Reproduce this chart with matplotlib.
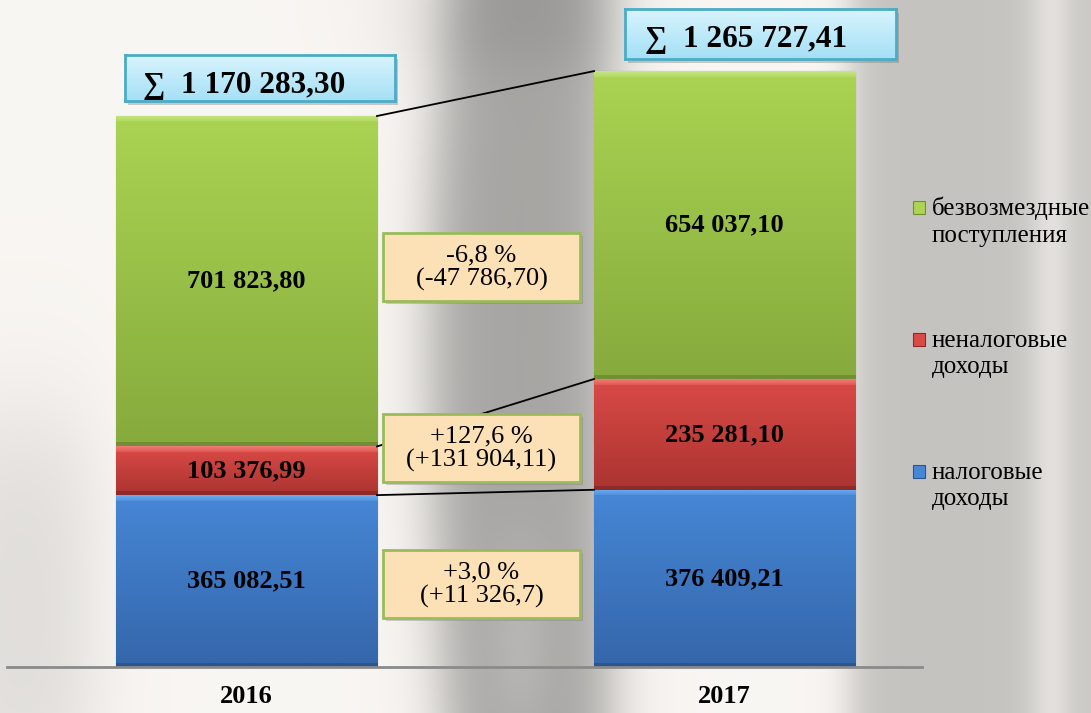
import numpy as np
import matplotlib
matplotlib.use("Agg")
import matplotlib.pyplot as plt
from matplotlib.patches import Rectangle
from matplotlib.colors import to_rgb

# ---------------- data ----------------
years = ["2016", "2017"]
series_names = ["налоговые\nдоходы", "неналоговые\nдоходы", "безвозмездные\nпоступления"]
tax = [365082.51, 376409.21]
nontax = [103376.99, 235281.10]
grants = [701823.80, 654037.10]
value_labels = [["365 082,51", "376 409,21"],
                ["103 376,99", "235 281,10"],
                ["701 823,80", "654 037,10"]]
total_labels = ["∑  1 170 283,30", "∑  1 265 727,41"]
change_labels = ["+3,0 %\n(+11 326,7)", "+127,6 %\n(+131 904,11)", "-6,8 %\n(-47 786,70)"]

# ---------------- style ----------------
W, H = 1091, 713
SERIF = ["Liberation Serif", "DejaVu Serif"]
plt.rcParams["font.family"] = SERIF

seg_colors = [  # (highlight, top, bottom, bottom edge)
    ("#6aaaf0", "#4687d6", "#3566aa", "#2b5590"),
    ("#f07a76", "#da4a46", "#ab3431", "#8e2a28"),
    ("#c6e584", "#aad452", "#86aa3d", "#718f33"),
]

fig = plt.figure(figsize=(W / 100, H / 100), dpi=100)


def fx(x):
    return x / W


def fy(y):
    return 1 - y / H


# ---------------- background (photo-like soft gray) ----------------
bg = fig.add_axes([0, 0, 1, 1], zorder=-5)
yy, xx = np.mgrid[0:H, 0:W].astype(float)


def sband(x, a, b, s):
    return 1 / (1 + np.exp(-(x - a) / s)) / (1 + np.exp((x - b) / s))


v = np.full((H, W), 0.975)
shift = 15 * np.sin(yy / H * np.pi)
v -= 0.32 * sband(xx, 445 - shift, 610, 16)
v += 0.10 * sband(xx, 500, 540, 12) * sband(yy, 560, 713, 30)
v -= 0.20 * sband(xx, 850, 1040, 10)
v -= 0.18 * sband(xx, 1062, 1300, 8)
v -= 0.10 * sband(xx, -50, 90, 20) * sband(yy, 420, 800, 40)
v -= 0.05 * sband(xx, 380, 620, 25) * sband(yy, -50, 60, 15)
v = np.clip(v, 0, 1)
rgb = np.dstack([v, v * 0.99, v * 0.975])
bg.imshow(rgb, aspect="auto", extent=[0, W, H, 0], interpolation="bilinear")
bg.set_xlim(0, W)
bg.set_ylim(H, 0)
bg.axis("off")

# ---------------- main axes ----------------
PX = 2124.0  # data units per pixel
ax = fig.add_axes([fx(7), fy(667), 915 / W, 667 / H])
ax.set_facecolor("none")
x = np.arange(len(years))
bw = 0.546

series = [tax, nontax, grants]
bottoms = np.zeros(len(years))
tops = []
for si, vals in enumerate(series):
    hl, ctop, cbot, cedge = [np.array(to_rgb(c)) for c in seg_colors[si]]
    bars = ax.bar(x, vals, bw, bottom=bottoms, color=seg_colors[si][1],
                  edgecolor=seg_colors[si][3], linewidth=0.8, zorder=2)
    for bi, patch in enumerate(bars.patches):
        n = max(int(round(vals[bi] / PX)), 4)
        t = np.linspace(0, 1, n)[:, None]
        col = ctop + (cbot - ctop) * t
        r = np.arange(n)
        hmask = r < 6
        col[hmask] = hl * (1 - r[hmask, None] / 8) + col[hmask] * (r[hmask, None] / 8)
        col[r >= n - 4] = cedge
        img = np.repeat(col[:, None, :], 2, axis=1)
        x0 = x[bi] - bw / 2
        im = ax.imshow(img, extent=[x0, x0 + bw, bottoms[bi], bottoms[bi] + vals[bi]],
                       origin="upper", aspect="auto", interpolation="bilinear", zorder=2.5)
        im.set_clip_path(patch)
        ax.text(x[bi], bottoms[bi] + vals[bi] / 2, value_labels[si][bi],
                ha="center", va="center", fontsize=19, fontweight="bold",
                color="black", zorder=4)
    bottoms = bottoms + np.array(vals)
    tops.append(bottoms.copy())

# connector lines between stacked segment tops
for tp in tops:
    ax.plot([x[0] + bw / 2, x[1] - bw / 2], [tp[0], tp[1]], color="black", lw=1.3, zorder=3)

ax.set_xlim(-0.501, 1.413)
ax.set_ylim(0, 667 * PX)
for s in ["left", "right", "top"]:
    ax.spines[s].set_visible(False)
ax.spines["bottom"].set_color("#8a8a8a")
ax.spines["bottom"].set_linewidth(2)
ax.set_yticks([])
ax.set_xticks(x)
ax.set_xticklabels(years, fontsize=19, fontweight="bold")
ax.tick_params(axis="x", length=0, pad=13)

# ---------------- change boxes ----------------
box_centers_y = [584, 447.5, 267]
for lbl, cy in zip(change_labels, box_centers_y):
    x0, y0, bwp, bhp = 383, cy - 34, 197, 68
    fig.add_artist(Rectangle((fx(x0 + 3), fy(y0 + bhp + 3)), bwp / W, bhp / H,
                             transform=fig.transFigure, facecolor="#7a7a7a",
                             alpha=0.35, edgecolor="none", zorder=5))
    fig.add_artist(Rectangle((fx(x0), fy(y0 + bhp)), bwp / W, bhp / H,
                             transform=fig.transFigure, facecolor="#fce0b6",
                             edgecolor="#9bbb59", linewidth=2, zorder=6))
    fig.text(fx(x0 + bwp / 2), fy(cy + 1), lbl, ha="center", va="center",
             fontsize=19, linespacing=1.1, zorder=7)

# ---------------- total boxes ----------------
total_boxes = [(125, 55, 270, 46, 143, 85), (625, 9, 271, 50, 645, 39)]
for lbl, (bx, by, bwp, bhp, tx, ty) in zip(total_labels, total_boxes):
    fig.add_artist(Rectangle((fx(bx + 3), fy(by + bhp + 4)), bwp / W, bhp / H,
                             transform=fig.transFigure, facecolor="#707070",
                             alpha=0.35, edgecolor="none", zorder=5))
    bax = fig.add_axes([fx(bx), fy(by + bhp), bwp / W, bhp / H], zorder=6)
    grad = np.linspace(0, 1, 50)[:, None]
    c1, c2 = np.array(to_rgb("#d8f4fd")), np.array(to_rgb("#a5e0f6"))
    gimg = c1 + (c2 - c1) * grad[:, :, None]
    bax.imshow(np.repeat(gimg, 2, axis=1), aspect="auto", extent=[0, 1, 0, 1], origin="upper")
    bax.set_xticks([])
    bax.set_yticks([])
    for sp in bax.spines.values():
        sp.set_color("#4bacc6")
        sp.set_linewidth(2)
    fig.text(fx(tx), fy(ty), lbl, ha="left", va="center", fontsize=22.5,
             fontweight="bold", family=SERIF, zorder=8)

# ---------------- legend (manual, first line aligned with marker) ----------------
leg_first_line_y = [472, 340, 208]
for si, ly in enumerate(leg_first_line_y):
    fig.add_artist(Rectangle((fx(913), fy(ly + 6)), 12 / W, 13 / H,
                             transform=fig.transFigure, facecolor=seg_colors[si][1],
                             edgecolor=seg_colors[si][3], linewidth=0.8, zorder=5))
    fig.text(fx(932), fy(ly + 14), series_names[si], ha="left", va="center",
             fontsize=18, linespacing=1.27, zorder=6)

fig.savefig("out.png", dpi=100)
